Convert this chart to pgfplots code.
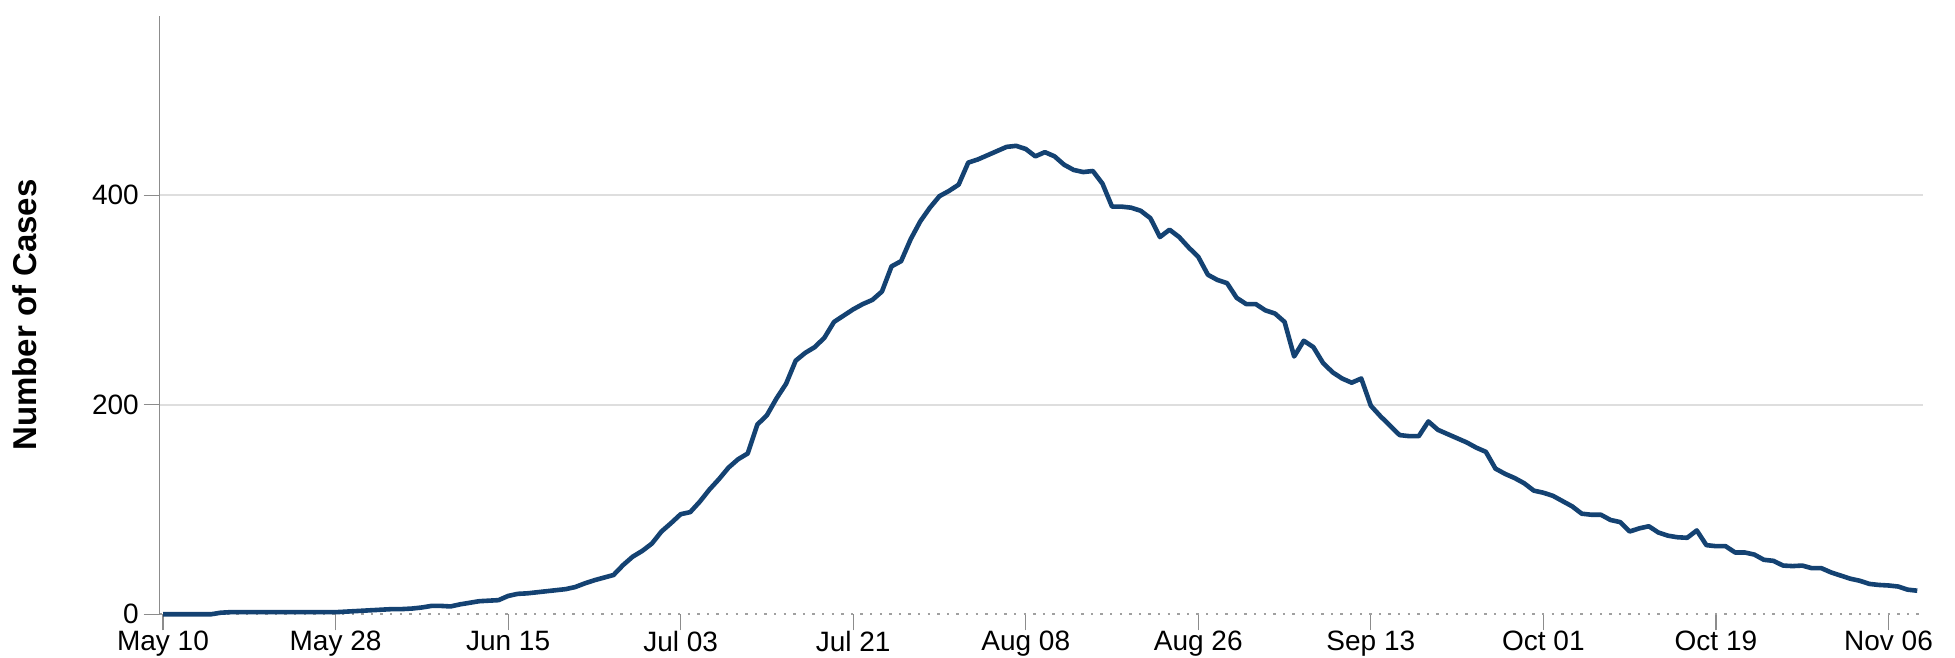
\documentclass[border=0pt]{standalone}
\usepackage{fontspec}
\setmainfont{Liberation Sans}
\usepackage{pgfplots}
\usepackage{pgfplotstable}
\pgfplotsset{compat=1.18}
\definecolor{linec}{HTML}{144272}
\definecolor{gridc}{HTML}{DEDEDE}
\definecolor{axc}{HTML}{8C8C8C}
\definecolor{dotc}{HTML}{A0A0A0}
\pgfplotstableread{
d v
0 0
1 0
2 0
3 0
4 0
5 0
6 1.5
7 2
8 2
9 2
10 2
11 2
12 2
13 2
14 2
15 2
16 2
17 2
18 2
19 2.5
20 3
21 3.5
22 4
23 4.5
24 5
25 5
26 5.5
27 6.5
28 8
29 8
30 7.5
31 9.5
32 11
33 12.5
34 13
35 13.5
36 17.5
37 19.5
38 20
39 21
40 22
41 23
42 24
43 26
44 29.5
45 32.5
46 35
47 37.5
48 47
49 55
50 60.5
51 67.5
52 79
53 87
54 95.5
55 97.5
56 107.5
57 119
58 129
59 140
60 148
61 153.5
62 181
63 190
64 206
65 220
66 242
67 249.5
68 255
69 264
70 279
71 285
72 291
73 296
74 300
75 308
76 332
77 337
78 358
79 375
80 388
81 399
82 404
83 410
84 431
85 434
86 438
87 442
88 446
89 447
90 444
91 437
92 441
93 437
94 429
95 424
96 422
97 423
98 411
99 389
100 389
101 388
102 385
103 378
104 360
105 367
106 360
107 350
108 341
109 324
110 319
111 316
112 302
113 296
114 296
115 290
116 287
117 279
118 246
119 261
120 255
121 240
122 231
123 225
124 221
125 225
126 199
127 189
128 180
129 171
130 170
131 170
132 184
133 176
134 172
135 168
136 164
137 159
138 155
139 139
140 134
141 130
142 125
143 118
144 116
145 113
146 108
147 103
148 96
149 95
150 95
151 90
152 88
153 79
154 82
155 84
156 78
157 75
158 73.5
159 73
160 80
161 66
162 65
163 65
164 59
165 59
166 57
167 52
168 51
169 46.5
170 46
171 46.5
172 44
173 44
174 40
175 37
176 34
177 32
178 29
179 28
180 27.5
181 26.5
182 23.5
183 22.5
}\cases
\begin{document}
\begin{tikzpicture}
\useasboundingbox (0,0) rectangle (977.5pt,329pt);
\begin{axis}[
  at={(79.8pt,21.85pt)}, anchor=south west,
  scale only axis, width=881.7pt, height=299.2pt,
  xmin=-0.355, xmax=183.6, ymin=0, ymax=571,
  clip=false,
  axis lines=left,
  x axis line style={-, draw=dotc, line width=0.9pt, dash pattern=on 1.2pt off 3.6pt},
  y axis line style={-, draw=axc, line width=0.6pt},
  xtick={0,18,...,180},
  xticklabels={May 10,May 28,Jun 15,Jul 03,Jul 21,Aug 08,Aug 26,Sep 13,Oct 01,Oct 19,Nov 06},
  ytick={200,400},
  extra y ticks={0},
  extra y tick style={grid=none},
  ymajorgrids,
  major grid style={draw=gridc, line width=0.9pt},
  tick align=outside,
  major tick length=8pt,
  tick style={draw=axc, line width=0.6pt},
  /pgf/number format/assume math mode=true,
  ticklabel style={font=\fontsize{14}{16}\selectfont, text=black, inner sep=0.5pt},
  xticklabel style={yshift=0.3pt},
  yticklabel style={xshift=-1.7pt},
  ylabel={Number of Cases},
  ylabel style={at={(axis description cs:-0.0763,0.5)}, anchor=center,
    font=\fontsize{16.5}{19}\selectfont\bfseries},
]
\addplot[linec, line width=2.3pt, line join=round, no marks] table[x=d, y=v] {\cases};
\end{axis}
\end{tikzpicture}
\end{document}
